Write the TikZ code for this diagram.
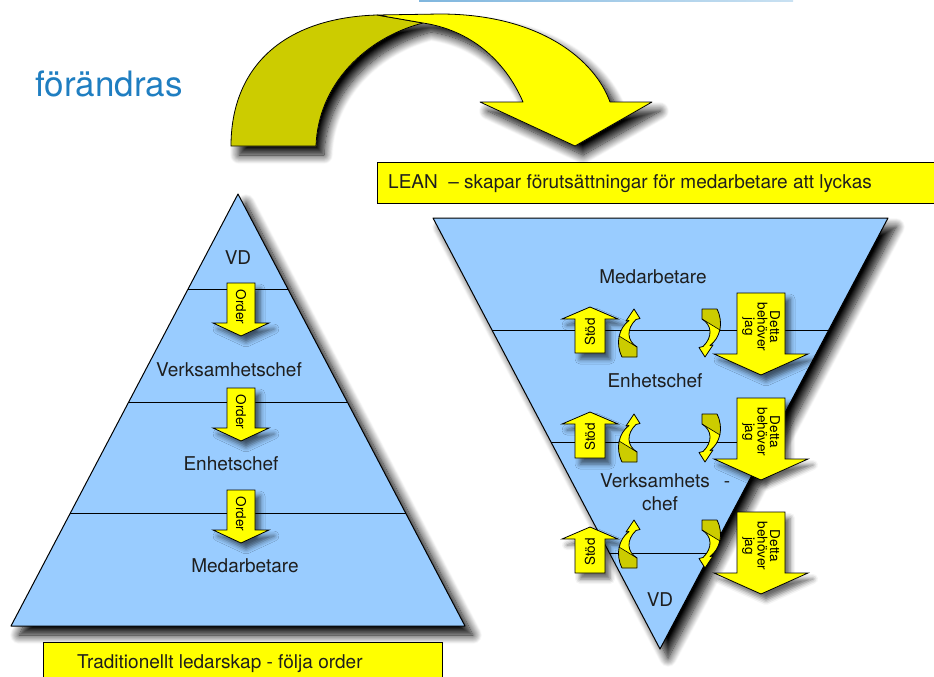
\documentclass[tikz,border=0pt]{standalone}
\usepackage{fontspec}
\setmainfont{TeX Gyre Heros}
\usetikzlibrary{shadows.blur}
\definecolor{pyrblue}{HTML}{99CCFF}
\definecolor{ayellow}{HTML}{FFFF00}
\definecolor{dyellow}{HTML}{CCCC00}
\definecolor{titleblue}{HTML}{1F7EC1}
\definecolor{txt}{HTML}{1E1E1E}
\definecolor{lineA}{HTML}{7FB6DE}
\definecolor{lineB}{HTML}{3F95D2}
\definecolor{lineC}{HTML}{C9E1F2}
\def\curlpath{(-7,24) .. controls (-14,10) and (-10,-5) .. (0,-12.5) -- (-3,-12) -- (5,-24) -- (11,-14.5) -- (7,-13.5) .. controls (-3,-4) and (-2,8) .. (8,14) -- (8,24) -- cycle}
\tikzset{
  bigshade/.style={blur shadow={shadow xshift=8pt, shadow yshift=-9pt, shadow blur radius=9pt, shadow blur steps=12, shadow opacity=100}},
  smallshade/.style={blur shadow={shadow xshift=5pt, shadow yshift=-6pt, shadow blur radius=5pt, shadow opacity=60}},
  pyr/.style={fill=pyrblue, draw=black, line width=1pt},
  layerline/.style={draw=black, line width=1pt},
  yarrow/.style={fill=ayellow, draw=black, line width=0.8pt},
  ybox/.style={fill=ayellow, draw=black, line width=0.8pt},
  lbl/.style={font=\fontsize{19}{22}\selectfont, text=txt, inner sep=0pt},
  smalltxt/.style={font=\fontsize{13.5}{12.5}\selectfont, text=black, inner sep=0pt, align=center},
  orderarrow/.pic={
    \filldraw[yarrow, smallshade] (-14,0) -- (14,0) -- (14,40) -- (28,40) -- (0,53) -- (-28,40) -- (-14,40) -- cycle;
    \node[smalltxt, rotate=-90] (t) at (0,24) {Order};
  },
  stodarrow/.pic={
    \filldraw[yarrow, smallshade] (-15,0) -- (15,0) -- (15,-34) -- (28,-34) -- (0,-46) -- (-28,-34) -- (-15,-34) -- cycle;
    \node[smalltxt, rotate=90] (t) at (0,-21) {Stöd};
  },
  dettaarrow/.pic={
    \filldraw[yarrow, smallshade] (-24,0) -- (24,0) -- (24,61) -- (47,61) -- (0,82) -- (-47,61) -- (-24,61) -- cycle;
    \node[smalltxt, rotate=-90] (t) at (0,34) {Detta\\behöver\\jag};
  },
  curlarrow/.pic={
    \fill[ayellow] \curlpath;
    \begin{scope}
      \clip \curlpath;
      \fill[dyellow] (-14,1) -- (8,14) -- (14,30) -- (-14,30) -- cycle;
    \end{scope}
    \draw[line width=0.6pt] (-10,3) -- (8,14);
    \draw[line width=0.8pt, line join=round] \curlpath;
  }
}
\begin{document}
\begin{tikzpicture}[x=1pt,y=-1pt]
\useasboundingbox (0,0) rectangle (934,677);

% top decorative line
\shade[left color=lineA, middle color=lineB, right color=lineC] (419,0) rectangle (793,1.8);

% title
\node[font=\fontsize{35}{40}\selectfont, text=titleblue, anchor=base west, inner sep=0pt] (title) at (35,96) {förändras};

% big curved arrow
\fill[white, bigshade] (231,146) .. controls (231,70) and (280,18) .. (377,15) -- (440,14) .. controls (540,14) and (595,60) .. (610,102) -- (652,102) -- (575,146) -- (480,102) -- (523,102) .. controls (505,60) and (470,30) .. (423,23) .. controls (365,38) and (318,85) .. (316,146) -- cycle;
\filldraw[fill=dyellow, draw=black, line width=0.8pt, line join=round] (231,146) .. controls (231,70) and (280,18) .. (377,15) -- (423,23) .. controls (365,38) and (318,85) .. (316,146) -- cycle;
\filldraw[fill=ayellow, draw=black, line width=0.8pt, line join=round] (377,15) -- (440,14) .. controls (540,14) and (595,60) .. (610,102) -- (652,102) -- (575,146) -- (480,102) -- (523,102) .. controls (505,60) and (470,30) .. (423,23) -- cycle;

% LEAN box
\filldraw[ybox] (377,162) rectangle (945,203);
\node[lbl, anchor=base west] (lean) at (388,188) {LEAN\ \ – skapar förutsättningar för medarbetare att lyckas};

% left pyramid
\coordinate (LA) at (238,194);
\coordinate (LB) at (11,626);
\coordinate (LC) at (465,626);
\filldraw[pyr, bigshade, line join=round] (LA) -- (LC) -- (LB) -- cycle;
\draw[layerline] (188,289) -- (288,289);
\draw[layerline] (129,402) -- (347,402);
\draw[layerline] (70,513) -- (406,513);
\node[lbl] (lvd) at (238,258) {VD};
\node[lbl] (lvc) at (229,370) {Verksamhetschef};
\node[lbl] (lec) at (231,464) {Enhetschef};
\node[lbl] (lmed) at (245,566) {Medarbetare};
\pic (o1) at (241,283) {orderarrow};
\pic (o2) at (241,388) {orderarrow};
\pic (o3) at (241,490) {orderarrow};

% bottom-left box
\filldraw[ybox] (43,642) rectangle (442,690);
\node[lbl, anchor=base west] (trad) at (77,668) {Traditionellt ledarskap - följa order};

% right inverted pyramid
\coordinate (RA) at (433,218);
\coordinate (RB) at (888,218);
\coordinate (RC) at (660,649);
\filldraw[pyr, bigshade, line join=round] (RA) -- (RB) -- (RC) -- cycle;
\draw[layerline] (492,330) -- (829,330);
\draw[layerline] (551,442) -- (770,442);
\draw[layerline] (609,553) -- (711,553);
\node[lbl] (rmed) at (653,277) {Medarbetare};
\node[lbl] (rec) at (655,381) {Enhetschef};
\node[lbl, anchor=base west] (rvc) at (600,487) {Verksamhets\hspace{14pt}-};
\node[lbl, anchor=base] (rchef) at (660,510) {chef};
\node[lbl] (rvd) at (660,600) {VD};

% support arrows
\pic (s1) at (590,353) {stodarrow};
\pic (s2) at (590,458) {stodarrow};
\pic (s3) at (590,573) {stodarrow};

% curled arrows
\pic (cl1) at (629,333) {curlarrow};
\pic (cl2) at (629,438) {curlarrow};
\pic (cl3) at (629,544) {curlarrow};
\pic[rotate=180] (cr1) at (710,333) {curlarrow};
\pic[rotate=180] (cr2) at (710,438) {curlarrow};
\pic[rotate=180] (cr3) at (710,544) {curlarrow};

% need arrows
\pic (d1) at (761,293) {dettaarrow};
\pic (d2) at (761,398) {dettaarrow};
\pic (d3) at (761,512) {dettaarrow};
\end{tikzpicture}
\end{document}
